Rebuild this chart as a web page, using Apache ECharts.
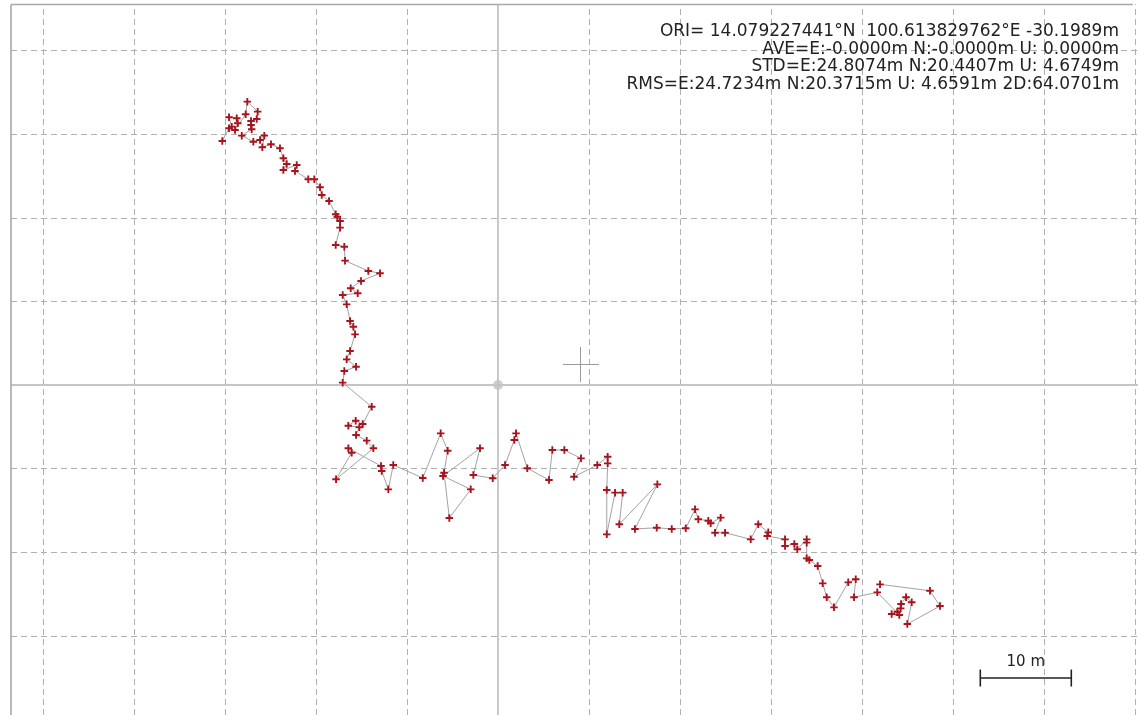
<!DOCTYPE html>
<html>
<head>
<meta charset="utf-8">
<title>Position plot</title>
<script src="https://cdn.jsdelivr.net/npm/echarts@6/dist/echarts.min.js"></script>
<style>
  html, body { margin: 0; padding: 0; background: #fff; }
  #chart { width: 1138px; height: 715px; }
</style>
</head>
<body>
<div id="chart"></div>
<script>
// East offsets of each fix from the origin, metres
const trackE = [
  -30.30, -29.56, -29.26, -29.56, -28.71, -28.60, -28.90, -27.73, -27.55, -26.41,
  -26.52, -27.14, -27.14, -27.07, -28.16, -26.89, -26.15, -25.68, -25.90, -24.95,
  -23.96, -23.59, -23.22, -23.59, -22.12, -22.31, -20.85, -20.19, -19.56, -19.37,
  -18.57, -17.84, -17.66, -17.36, -17.36, -17.84, -16.89, -16.81, -14.25, -12.97,
  -15.05, -16.19, -15.42, -17.07, -16.63, -16.26, -15.90, -15.71, -16.26, -16.63,
  -15.60, -16.89, -17.07, -13.88, -14.87, -15.64, -16.45, -15.24, -15.60, -14.43,
  -13.70, -17.80, -16.08, -16.45, -12.86, -12.78, -12.05, -11.51, -8.27, -6.30,
  -5.53, -5.93, -5.35, -3.00, -6.04, -1.98, -2.71, -0.58, 0.77, 1.79,
  1.98, 3.22, 5.60, 5.97, 7.29, 9.12, 8.35, 10.91, 12.05, 12.05,
  11.95, 11.95, 12.86, 13.70, 13.33, 17.51, 15.05, 17.44, 19.09, 20.63,
  21.65, 22.01, 23.11, 23.37, 24.47, 23.85, 24.95, 27.77, 28.60, 29.70,
  29.59, 31.54, 31.54, 32.56, 32.89, 33.92, 33.92, 33.92, 34.21, 35.13,
  35.68, 36.12, 36.92, 38.49, 39.31, 39.12, 41.68, 44.10, 43.26, 43.88,
  44.25, 44.29, 44.84, 45.46, 44.98, 48.57, 47.47, 41.98
];
// North offsets of each fix from the origin, metres
const trackN = [
  29.19, 30.71, 30.90, 32.02, 31.90, 31.30, 30.50, 32.38, 33.89, 32.69,
  31.82, 31.58, 31.10, 30.59, 29.82, 29.10, 29.31, 29.82, 28.43, 28.79,
  28.31, 27.12, 26.44, 25.72, 26.32, 25.60, 24.61, 24.61, 23.65, 22.73,
  22.01, 20.42, 20.13, 19.62, 18.82, 16.75, 16.54, 14.87, 13.64, 13.36,
  12.44, 11.57, 10.97, 10.77, 9.65, 7.66, 6.97, 6.06, 4.07, 3.07,
  2.19, 1.67, 0.28, -2.60, -4.67, -4.27, -4.87, -5.06, -5.98, -6.66,
  -7.57, -11.28, -8.10, -7.57, -9.69, -10.29, -12.48, -9.57, -11.12, -5.78,
  -7.86, -10.49, -15.91, -12.48, -10.89, -7.57, -10.77, -11.16, -9.57, -6.58,
  -5.78, -9.96, -11.36, -7.78, -7.78, -8.77, -10.97, -9.57, -8.58, -9.37,
  -12.56, -17.86, -12.88, -12.88, -16.66, -11.88, -17.22, -17.07, -17.22, -17.14,
  -14.87, -16.06, -16.23, -16.54, -15.87, -17.67, -17.67, -18.46, -16.66, -17.62,
  -18.06, -18.46, -19.26, -19.02, -19.65, -18.46, -18.86, -20.73, -20.93, -21.65,
  -23.72, -25.39, -26.59, -23.60, -23.24, -25.39, -24.80, -27.51, -27.39, -27.12,
  -26.71, -26.20, -25.39, -25.99, -28.59, -26.44, -24.61, -23.84
];

// Statistics block shown in the upper right
const statLines = [
  'ORI= 14.079227441°N  100.613829762°E -30.1989m',
  'AVE=E:-0.0000m N:-0.0000m U: 0.0000m',
  'STD=E:24.8074m N:20.4407m U: 4.6749m',
  'RMS=E:24.7234m N:20.3715m U: 4.6591m 2D:64.0701m'
];

// Grid line positions, metres
const gridE = [-50, -40, -30, -20, -10, 10, 20, 30, 40, 50, 60, 70];
const gridN = [-30, -20, -10, 10, 20, 30, 40];

// Visible extent of the plot, metres
const E_MIN = -53.52, E_MAX = 70.33;
const N_MIN = -39.47, N_MAX = 45.57;

// Scale bar: start point and length, metres
const scaleBarStart = [53, -35.05];
const scaleBarLen = 10;
const scaleBarText = '10 m';

const track = trackE.map((e, i) => [e, trackN[i]]);
const scaleBar = [scaleBarStart, [scaleBarStart[0] + scaleBarLen, scaleBarStart[1]]];

const chart = echarts.init(document.getElementById('chart'), null, { renderer: 'canvas' });

const plusPath = 'path://M3,0h2v3h3v2h-3v3h-2v-3h-3v-2h3z';
const FONT = '"DejaVu Sans", Tahoma, sans-serif';

const gridLineData = gridE.map(v => ({ xAxis: v })).concat(gridN.map(v => ({ yAxis: v })));

chart.setOption({
  animation: false,
  backgroundColor: '#ffffff',
  grid: { left: 11, top: 4, right: 0, bottom: 0, containLabel: false },
  xAxis: {
    type: 'value', min: E_MIN, max: E_MAX,
    axisLine: { show: false }, axisTick: { show: false }, axisLabel: { show: false },
    splitLine: { show: false }
  },
  yAxis: {
    type: 'value', min: N_MIN, max: N_MAX,
    axisLine: { show: false }, axisTick: { show: false }, axisLabel: { show: false },
    splitLine: { show: false }
  },
  series: [
    {
      // dashed 10 m grid
      type: 'line',
      data: [],
      silent: true,
      z: 1,
      markLine: {
        silent: true,
        symbol: 'none',
        label: { show: false },
        lineStyle: { type: [6, 4], color: '#b0b0b0', width: 1 },
        data: gridLineData
      }
    },
    {
      // east and north zero lines with the origin marker
      type: 'scatter',
      data: [[0, 0]],
      symbol: 'circle',
      symbolSize: 10,
      itemStyle: { color: '#c2c2c2' },
      silent: true,
      z: 3,
      markLine: {
        silent: true,
        symbol: 'none',
        label: { show: false },
        lineStyle: { type: 'solid', color: '#c4c4c4', width: 1.8 },
        data: [{ xAxis: 0 }, { yAxis: 0 }]
      }
    },
    {
      type: 'line',
      data: track,
      showAllSymbol: true,
      symbol: plusPath,
      symbolSize: 7.5,
      lineStyle: { color: '#a3a3a3', width: 1 },
      itemStyle: { color: '#a8141e' },
      z: 5
    },
    {
      type: 'line',
      data: scaleBar,
      symbol: 'rect',
      symbolSize: [1.6, 17],
      lineStyle: { color: '#222', width: 1.6 },
      itemStyle: { color: '#222' },
      silent: true,
      z: 6
    }
  ]
});

// frame, cursor and text overlays
const mid = chart.convertToPixel({ gridIndex: 0 }, [scaleBarStart[0] + scaleBarLen / 2, scaleBarStart[1]]);
const graphics = [
  { type: 'line', shape: { x1: 11, y1: 4.5, x2: 11, y2: 715 }, style: { stroke: '#a8a8a8', lineWidth: 1.6 }, z: 101 },
  { type: 'line', shape: { x1: 11, y1: 4.5, x2: 1133, y2: 4.5 }, style: { stroke: '#a8a8a8', lineWidth: 1.6 }, z: 101 },
  { type: 'line', shape: { x1: 563, y1: 364.5, x2: 599, y2: 364.5 }, style: { stroke: '#9a9a9a', lineWidth: 1 }, z: 101 },
  { type: 'line', shape: { x1: 580.5, y1: 347, x2: 580.5, y2: 382 }, style: { stroke: '#9a9a9a', lineWidth: 1 }, z: 101 },
  {
    type: 'text', z: 101,
    style: { text: scaleBarText, x: mid[0], y: mid[1] - 16, textAlign: 'center', textVerticalAlign: 'middle',
             fontSize: 15, fontFamily: FONT, fill: '#222' }
  }
];
const statY = [32, 49.5, 67, 85];
statLines.forEach((t, i) => {
  graphics.push({
    type: 'text', z: 101,
    style: { text: t, x: 1119, y: statY[i], textAlign: 'right', textVerticalAlign: 'middle',
             fontSize: 17, fontFamily: FONT, fill: '#222' }
  });
});
chart.setOption({ graphic: graphics });
</script>
</body>
</html>
